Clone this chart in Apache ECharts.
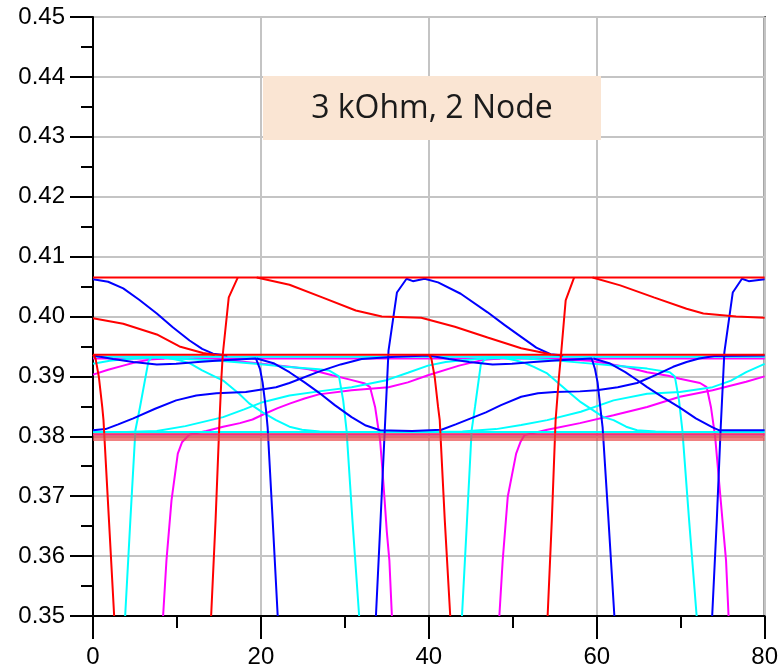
<!DOCTYPE html>
<html>
<head>
<meta charset="utf-8">
<script src="https://cdn.jsdelivr.net/npm/echarts@6/dist/echarts.min.js"></script>
<style>
  html, body { margin: 0; padding: 0; background: #fff; }
  #chart { width: 781px; height: 670px; }
</style>
</head>
<body>
<div id="chart"></div>
<script>
const RED = '#ff0000';
const BLUE = '#0000ff';
const CYAN = '#00ffff';
const MAGENTA = '#ff00ff';

const titleText = '3 kOhm, 2 Node';
const bandLevel = 0.3799;

// red traces
const redTop = [[0, 0.4065], [80, 0.4065]];
const redMid = [[0, 0.3936], [80, 0.3936]];
const redDecayA = [[0, 0.3997], [3.6, 0.3988], [7.6, 0.3970], [10.3, 0.3950], [13.1, 0.3939], [14.5, 0.3936]];
const redDecayB = [[19.5, 0.4065], [23.4, 0.4053], [27.3, 0.4032], [31.3, 0.4010], [34.4, 0.4000], [39.1, 0.3998],
  [43.1, 0.3983], [47, 0.3965], [51, 0.3947], [54.5, 0.3937]];
const redDecayC = [[59.5, 0.4065], [62.8, 0.4052], [66.8, 0.4032], [70.7, 0.4013], [72.7, 0.4005], [76.6, 0.4000], [80, 0.3998]];
const redRiseA = [[14.07, 0.35], [14.6, 0.366], [15.07, 0.3827], [15.3, 0.3899], [15.46, 0.3937], [16.17, 0.4032], [17.24, 0.4065]];
const redRiseB = [[54.15, 0.35], [54.65, 0.366], [55.1, 0.3827], [55.5, 0.3899], [55.75, 0.3937], [56.3, 0.4027], [57.3, 0.4065]];
const redFallA = [[0, 0.3936], [0.3, 0.3930], [0.7, 0.3899], [1.1, 0.3849], [1.25, 0.3827], [1.9, 0.366], [2.52, 0.35]];
const redFallB = [[40.0, 0.3936], [40.3, 0.3930], [40.7, 0.3899], [41.1, 0.3849], [41.3, 0.3827], [41.9, 0.366], [42.55, 0.35]];

// blue traces
const blueDecayA = [[0, 0.4062], [1.8, 0.4058], [3.6, 0.4047], [5.5, 0.4028], [7.6, 0.4005], [9.5, 0.3982], [11.5, 0.3960],
  [13, 0.3946], [14.3, 0.3938], [16, 0.3935]];
const blueRiseDecayB = [[33.7, 0.35], [34.25, 0.366], [34.75, 0.381], [35.2, 0.3943], [36.2, 0.4040], [37.35, 0.4063],
  [38.1, 0.4059], [39.5, 0.4063], [41.1, 0.4057], [43.8, 0.4038], [47, 0.4007], [49, 0.3986], [51, 0.3966],
  [52.8, 0.3948], [54.5, 0.3937], [56, 0.3935]];
const blueRiseC = [[73.75, 0.35], [74.3, 0.366], [74.75, 0.381], [75.2, 0.3940], [76.2, 0.4040], [77.3, 0.4063],
  [78.1, 0.4059], [80, 0.4062]];
const blueMidFallA = [[0, 0.3935], [2.4, 0.3929], [4.8, 0.3924], [7.6, 0.3920], [9.9, 0.3921], [12.5, 0.3924],
  [15.5, 0.3927], [19.4, 0.3930], [19.9, 0.3912], [20.2, 0.3890], [20.6, 0.3845], [20.8, 0.3815], [21.4, 0.366], [22.0, 0.35]];
const blueRiseMidFallB = [[0, 0.3810], [1.5, 0.3812], [3, 0.3820], [4.8, 0.3830], [7.4, 0.3846], [9.9, 0.3860],
  [12.3, 0.3868], [14.7, 0.3872], [18.2, 0.3874], [21.8, 0.3882], [23.4, 0.3889], [26.9, 0.3908], [29.5, 0.3920],
  [32, 0.3929], [36, 0.3933], [40, 0.3935], [42.4, 0.3929], [44.8, 0.3924], [47.6, 0.3920], [49.9, 0.3921],
  [52.5, 0.3924], [55.5, 0.3927], [59.4, 0.3930], [59.8, 0.3912], [60.1, 0.3890], [60.45, 0.3845], [60.7, 0.3815],
  [61.4, 0.366], [62.1, 0.35]];
const blueDescRiseC = [[19.5, 0.3930], [21.5, 0.3922], [23.4, 0.3907], [25.2, 0.3890], [26.9, 0.3873], [28.8, 0.3852],
  [30.8, 0.3832], [32.5, 0.3818], [34.2, 0.3810], [38, 0.3809], [41.5, 0.3811], [43.2, 0.3820], [45, 0.3830],
  [46.8, 0.3840], [48.6, 0.3852], [51, 0.3866], [53, 0.3872], [55, 0.3874], [58, 0.3875], [60, 0.3877],
  [62.5, 0.3882], [64.8, 0.3889], [67, 0.3902], [69.1, 0.3916], [70.7, 0.3924], [72.2, 0.3930], [74, 0.3934], [80, 0.3935]];
const blueDescD = [[59.6, 0.3930], [61.5, 0.3922], [63.4, 0.3907], [64.8, 0.3894], [66, 0.3882], [67.9, 0.3865],
  [69.9, 0.3848], [71.8, 0.3830], [73.8, 0.3815], [74.6, 0.3810], [80, 0.3810]];

// cyan traces
const cyanTop = [[0, 0.3933], [80, 0.3933]];
const cyanBottom = [[0, 0.3807], [80, 0.3807]];
const cyanTailA = [[0, 0.3921], [2, 0.3926], [4, 0.3929], [6.6, 0.3931], [8, 0.3932]];
const cyanRiseMidFallA = [[3.83, 0.35], [4.45, 0.366], [5.05, 0.381], [5.6, 0.3849], [6.6, 0.3925], [7.0, 0.3932],
  [10, 0.3930], [15, 0.3926], [19.4, 0.3921], [23, 0.3916], [26.9, 0.3912], [28.1, 0.3910], [29.3, 0.3900],
  [29.8, 0.3860], [30.2, 0.3810], [30.9, 0.366], [31.7, 0.35]];
const cyanRiseMidFallB = [[43.95, 0.35], [44.55, 0.366], [45.1, 0.381], [45.5, 0.3849], [46.2, 0.3921], [46.8, 0.3930],
  [50, 0.3931], [55, 0.3927], [58, 0.3923], [62, 0.3918], [66, 0.3913], [68.7, 0.3907], [69.3, 0.3900],
  [69.8, 0.3860], [70.2, 0.3810], [71.0, 0.366], [71.9, 0.35]];
const cyanFallSmoothA = [[7, 0.3933], [8.8, 0.3931], [10.3, 0.3927], [11.5, 0.3922], [13, 0.3910], [15.5, 0.3893],
  [17.4, 0.3871], [18.6, 0.3855], [20.2, 0.3840], [21.8, 0.3827], [23.4, 0.3816], [24.9, 0.3811], [27, 0.3808], [29, 0.3807]];
const cyanFallSmoothB = [[47, 0.3933], [48.8, 0.3931], [50.3, 0.3927], [51.5, 0.3922], [52.5, 0.3916], [54.1, 0.3905],
  [56.9, 0.3871], [58.1, 0.3857], [60.8, 0.3832], [62, 0.3827], [63.5, 0.3816], [64.8, 0.3810], [67, 0.3808], [69, 0.3807]];
const cyanRiseSmoothA = [[0, 0.3807], [4, 0.3807], [7.6, 0.3809], [11, 0.3817], [15.5, 0.3832], [18, 0.3845],
  [20.2, 0.3857], [23.4, 0.3868], [26.9, 0.3875], [30.8, 0.3882], [34.8, 0.3893], [37.5, 0.3906], [39.9, 0.3918],
  [42, 0.3924], [44, 0.3927], [46.6, 0.3930], [48, 0.3931]];
const cyanRiseSmoothB = [[41, 0.3807], [44, 0.3808], [48, 0.3812], [51, 0.3819], [54.1, 0.3827], [58.1, 0.3841],
  [62, 0.3860], [66, 0.3871], [69.9, 0.3874], [73.8, 0.3882], [76, 0.3893], [77.8, 0.3907], [80, 0.3921]];

// magenta traces
const magentaTop = [[0, 0.3930], [80, 0.3930]];
const magentaBottom = [[0, 0.3803], [80, 0.3803]];
const magentaTailA = [[0, 0.3903], [1.8, 0.3911], [3.6, 0.3918], [5.2, 0.3924], [6.8, 0.3928], [8.5, 0.3930]];
const magentaRiseA = [[8.35, 0.35], [8.75, 0.3593], [9.35, 0.3693], [10.1, 0.3771], [10.6, 0.3790], [11.5, 0.3803],
  [13.5, 0.3809], [15.5, 0.3816], [17.5, 0.3822], [19, 0.3828], [20.2, 0.3836], [22, 0.3847], [23.5, 0.3855],
  [25.2, 0.3863], [26.9, 0.3870], [30.8, 0.3877], [35.2, 0.3882], [37.5, 0.3890], [39.9, 0.3902], [43.6, 0.3918],
  [46.6, 0.3928], [48.5, 0.3930]];
const magentaRiseB = [[48.4, 0.35], [48.8, 0.3593], [49.4, 0.3699], [50.4, 0.3771], [50.9, 0.3790], [51.4, 0.3802],
  [54.1, 0.3811], [58, 0.3822], [62, 0.3835], [66, 0.3849], [69.9, 0.3866], [73.8, 0.3877], [77.8, 0.3891], [80, 0.3900]];
const magentaMidFallA = [[12, 0.3930], [14.7, 0.3929], [19, 0.3923], [23.4, 0.3916], [25.7, 0.3912], [28.5, 0.3902],
  [30.5, 0.3895], [32.4, 0.3888], [33.0, 0.3882], [33.6, 0.3849], [34.2, 0.3793], [34.6, 0.3720], [35.0, 0.3640],
  [35.3, 0.3593], [35.6, 0.35]];
const magentaMidFallB = [[52, 0.3930], [54.7, 0.3929], [59.2, 0.3926], [63.4, 0.3916], [66, 0.3907], [68.5, 0.3901],
  [69.9, 0.3896], [72.3, 0.3889], [73.1, 0.3882], [73.6, 0.3849], [74.1, 0.3800], [74.6, 0.3720], [75.1, 0.3640],
  [75.4, 0.3593], [75.7, 0.35]];

const traces = [
  [MAGENTA, magentaTop], [MAGENTA, magentaBottom], [MAGENTA, magentaTailA], [MAGENTA, magentaRiseA],
  [MAGENTA, magentaRiseB], [MAGENTA, magentaMidFallA], [MAGENTA, magentaMidFallB],
  [CYAN, cyanBottom], [CYAN, cyanTailA], [CYAN, cyanRiseMidFallA], [CYAN, cyanRiseMidFallB],
  [CYAN, cyanFallSmoothA], [CYAN, cyanFallSmoothB], [CYAN, cyanRiseSmoothA], [CYAN, cyanRiseSmoothB], [CYAN, cyanTop],
  [BLUE, blueDecayA], [BLUE, blueRiseDecayB], [BLUE, blueRiseC], [BLUE, blueMidFallA],
  [BLUE, blueRiseMidFallB], [BLUE, blueDescRiseC], [BLUE, blueDescD],
  [RED, redMid], [RED, redDecayA], [RED, redDecayB], [RED, redDecayC], [RED, redRiseA], [RED, redRiseB],
  [RED, redFallA], [RED, redFallB], [RED, redTop],
];

const series = traces.map(([color, data]) => ({
  type: 'line',
  data,
  symbol: 'none',
  silent: true,
  lineStyle: { color, width: 2 },
}));

// highlight band across the plot
series.push({
  type: 'line',
  data: [],
  z: 10,
  markLine: {
    silent: true,
    symbol: ['none', 'none'],
    label: { show: false },
    lineStyle: { color: 'rgba(235, 70, 70, 0.68)', width: 8, type: 'solid' },
    data: [{ yAxis: bandLevel }],
  },
});

const axisFont = { color: '#000', fontSize: 24, fontFamily: '"Liberation Sans", Arial, sans-serif' };
const blackLine = { color: '#000', width: 2 };
const gridLine = { color: '#c4c4c4', width: 2 };

const chart = echarts.init(document.getElementById('chart'), null, { renderer: 'canvas' });
chart.setOption({
  animation: false,
  backgroundColor: '#fff',
  grid: { left: 93, right: 12, top: 17, bottom: 54, show: true, borderColor: '#000', borderWidth: 2 },
  xAxis: {
    type: 'value',
    min: 0,
    max: 80,
    interval: 20,
    axisLine: { lineStyle: blackLine },
    axisTick: { length: 23, lineStyle: blackLine },
    minorTick: { show: true, splitNumber: 2, length: 12, lineStyle: blackLine },
    splitLine: { show: true, lineStyle: gridLine },
    axisLabel: { ...axisFont, margin: 29 },
  },
  yAxis: {
    type: 'value',
    min: 0.35,
    max: 0.45,
    interval: 0.01,
    axisLine: { show: true, lineStyle: blackLine },
    axisTick: { show: true, length: 23, lineStyle: blackLine },
    minorTick: { show: true, splitNumber: 2, length: 12, lineStyle: blackLine },
    splitLine: { show: true, lineStyle: gridLine },
    axisLabel: { ...axisFont, margin: 28, formatter: (v) => v.toFixed(2) },
  },
  graphic: [
    {
      type: 'rect',
      z: 20,
      shape: { x: 263, y: 76, width: 338, height: 64 },
      style: { fill: '#fae5d3' },
    },
    {
      type: 'text',
      z: 21,
      x: 432,
      y: 109,
      style: {
        text: titleText,
        font: '32px "Open Sans", sans-serif',
        fill: '#1a1a1a',
        textAlign: 'center',
        textVerticalAlign: 'middle',
        align: 'center',
        verticalAlign: 'middle',
      },
    },
  ],
  series,
});
</script>
</body>
</html>
